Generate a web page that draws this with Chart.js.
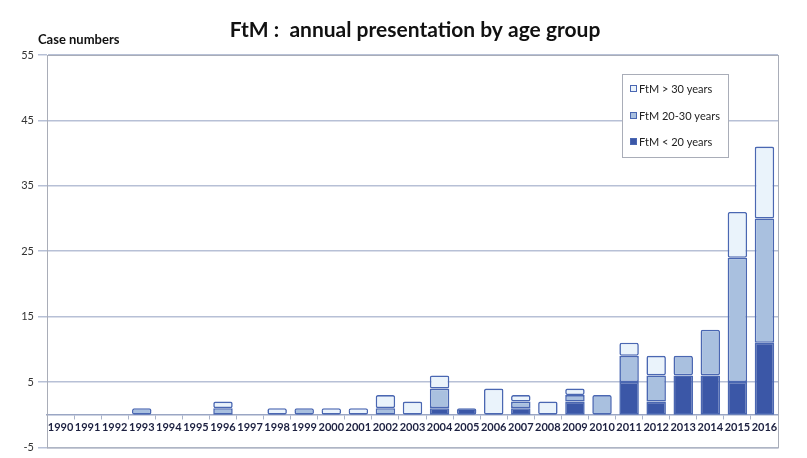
<!DOCTYPE html>
<html>
<head>
<meta charset="utf-8">
<script src="https://cdn.jsdelivr.net/npm/chart.js@4/dist/chart.umd.min.js"></script>
<style>
  body { margin: 0; background: #fff; }
  #wrap { width: 807px; height: 458px; }
</style>
</head>
<body>
<div id="wrap"><canvas id="c" width="807" height="458"></canvas></div>
<script>
// values, 1990..2016
const years = ['1990','1991','1992','1993','1994','1995','1996','1997','1998','1999',
               '2000','2001','2002','2003','2004','2005','2006','2007','2008','2009',
               '2010','2011','2012','2013','2014','2015','2016'];
const under20  = [0,0,0,0,0,0,0,0,0,0, 0,0,0,0,1,1,0,1,0,2, 0,5,2,6,6,5,11];
const age20to30 = [0,0,0,1,0,0,1,0,0,1, 0,0,1,0,3,0,0,1,0,1, 3,4,4,3,7,19,19];
const over30   = [0,0,0,0,0,0,1,0,1,0, 1,1,2,2,2,0,4,1,2,1, 0,2,3,0,0,7,11];
const seriesNames = ['FtM < 20 years', 'FtM 20-30 years', 'FtM > 30 years'];
const yTicks = [-5, 5, 15, 25, 35, 45, 55];
const chartTitle = 'FtM :  annual presentation by age group';

const fills = ['#3b57a7', '#a9c0df', '#eaf3fb'];
const edge = '#4a67b2';
const FONT = 'Lato, "Open Sans", sans-serif';

// zeros are simply not drawn
const noZero = arr => arr.map(v => v === 0 ? null : v);

// title, frame, "Case numbers" and the boxed legend
const extras = {
  id: 'extras',
  afterDraw(chart) {
    const { ctx, chartArea: a } = chart;
    ctx.save();
    ctx.strokeStyle = '#a9adb8';
    ctx.lineWidth = 1;
    ctx.strokeRect(a.left + 0.5, a.top + 0.5, a.right - a.left, a.bottom - a.top);

    ctx.fillStyle = '#111';
    ctx.textBaseline = 'middle';
    ctx.textAlign = 'center';
    ctx.font = 'bold 21px ' + FONT;
    ctx.fillText(chartTitle, 415, 30);

    ctx.textAlign = 'left';
    ctx.font = 'bold 13px ' + FONT;
    ctx.fillText('Case numbers', 38, 40);

    // legend box
    const bx = 622, by = 74, bw = 106, bh = 83;
    ctx.fillStyle = '#fff';
    ctx.fillRect(bx, by, bw, bh);
    ctx.strokeStyle = '#a9adb8';
    ctx.strokeRect(bx + 0.5, by + 0.5, bw, bh);
    const rows = [[2, 89], [1, 116], [0, 142]];
    ctx.font = '11px ' + FONT;
    rows.forEach(([i, y]) => {
      ctx.fillStyle = fills[i];
      ctx.fillRect(630, y - 4, 7, 7);
      ctx.strokeStyle = edge;
      ctx.strokeRect(630.5, y - 3.5, 6, 6);
      ctx.fillStyle = '#222';
      ctx.fillText(seriesNames[i], 639, y);
    });
    ctx.restore();
  }
};

new Chart(document.getElementById('c'), {
  type: 'bar',
  data: {
    labels: years,
    datasets: [under20, age20to30, over30].map((d, i) => ({
      label: seriesNames[i],
      data: noZero(d),
      backgroundColor: fills[i],
      borderColor: edge,
      borderWidth: 1.6,
      borderSkipped: false,
      borderRadius: 2,
      barPercentage: 0.72,
      categoryPercentage: 1
    }))
  },
  options: {
    responsive: false,
    animation: false,
    layout: { padding: { left: 0, right: 29, top: 55, bottom: 8 } },
    plugins: {
      legend: { display: false },
      tooltip: { enabled: false },
      title: { display: false }
    },
    scales: {
      x: {
        stacked: true,
        position: { y: 0 },
        grid: { display: true, drawOnChartArea: false, offset: true, tickLength: 4, color: '#a9b2c8' },
        border: { color: '#9aa6c4', width: 1.5 },
        ticks: { color: '#1c2040', font: { family: FONT, size: 11, weight: 'bold' }, padding: 2, maxRotation: 0, autoSkip: false }
      },
      y: {
        stacked: true,
        min: -5,
        max: 55,
        afterFit(s) { s.width = 47; },
        afterBuildTicks(s) { s.ticks = yTicks.map(v => ({ value: v })); },
        grid: { color: '#b7c0d6', lineWidth: 1.5, tickLength: 9 },
        border: { color: '#a9adb8' },
        ticks: { color: '#333', font: { family: FONT, size: 11 }, padding: 4 }
      }
    }
  },
  plugins: [extras]
});
</script>
</body>
</html>
